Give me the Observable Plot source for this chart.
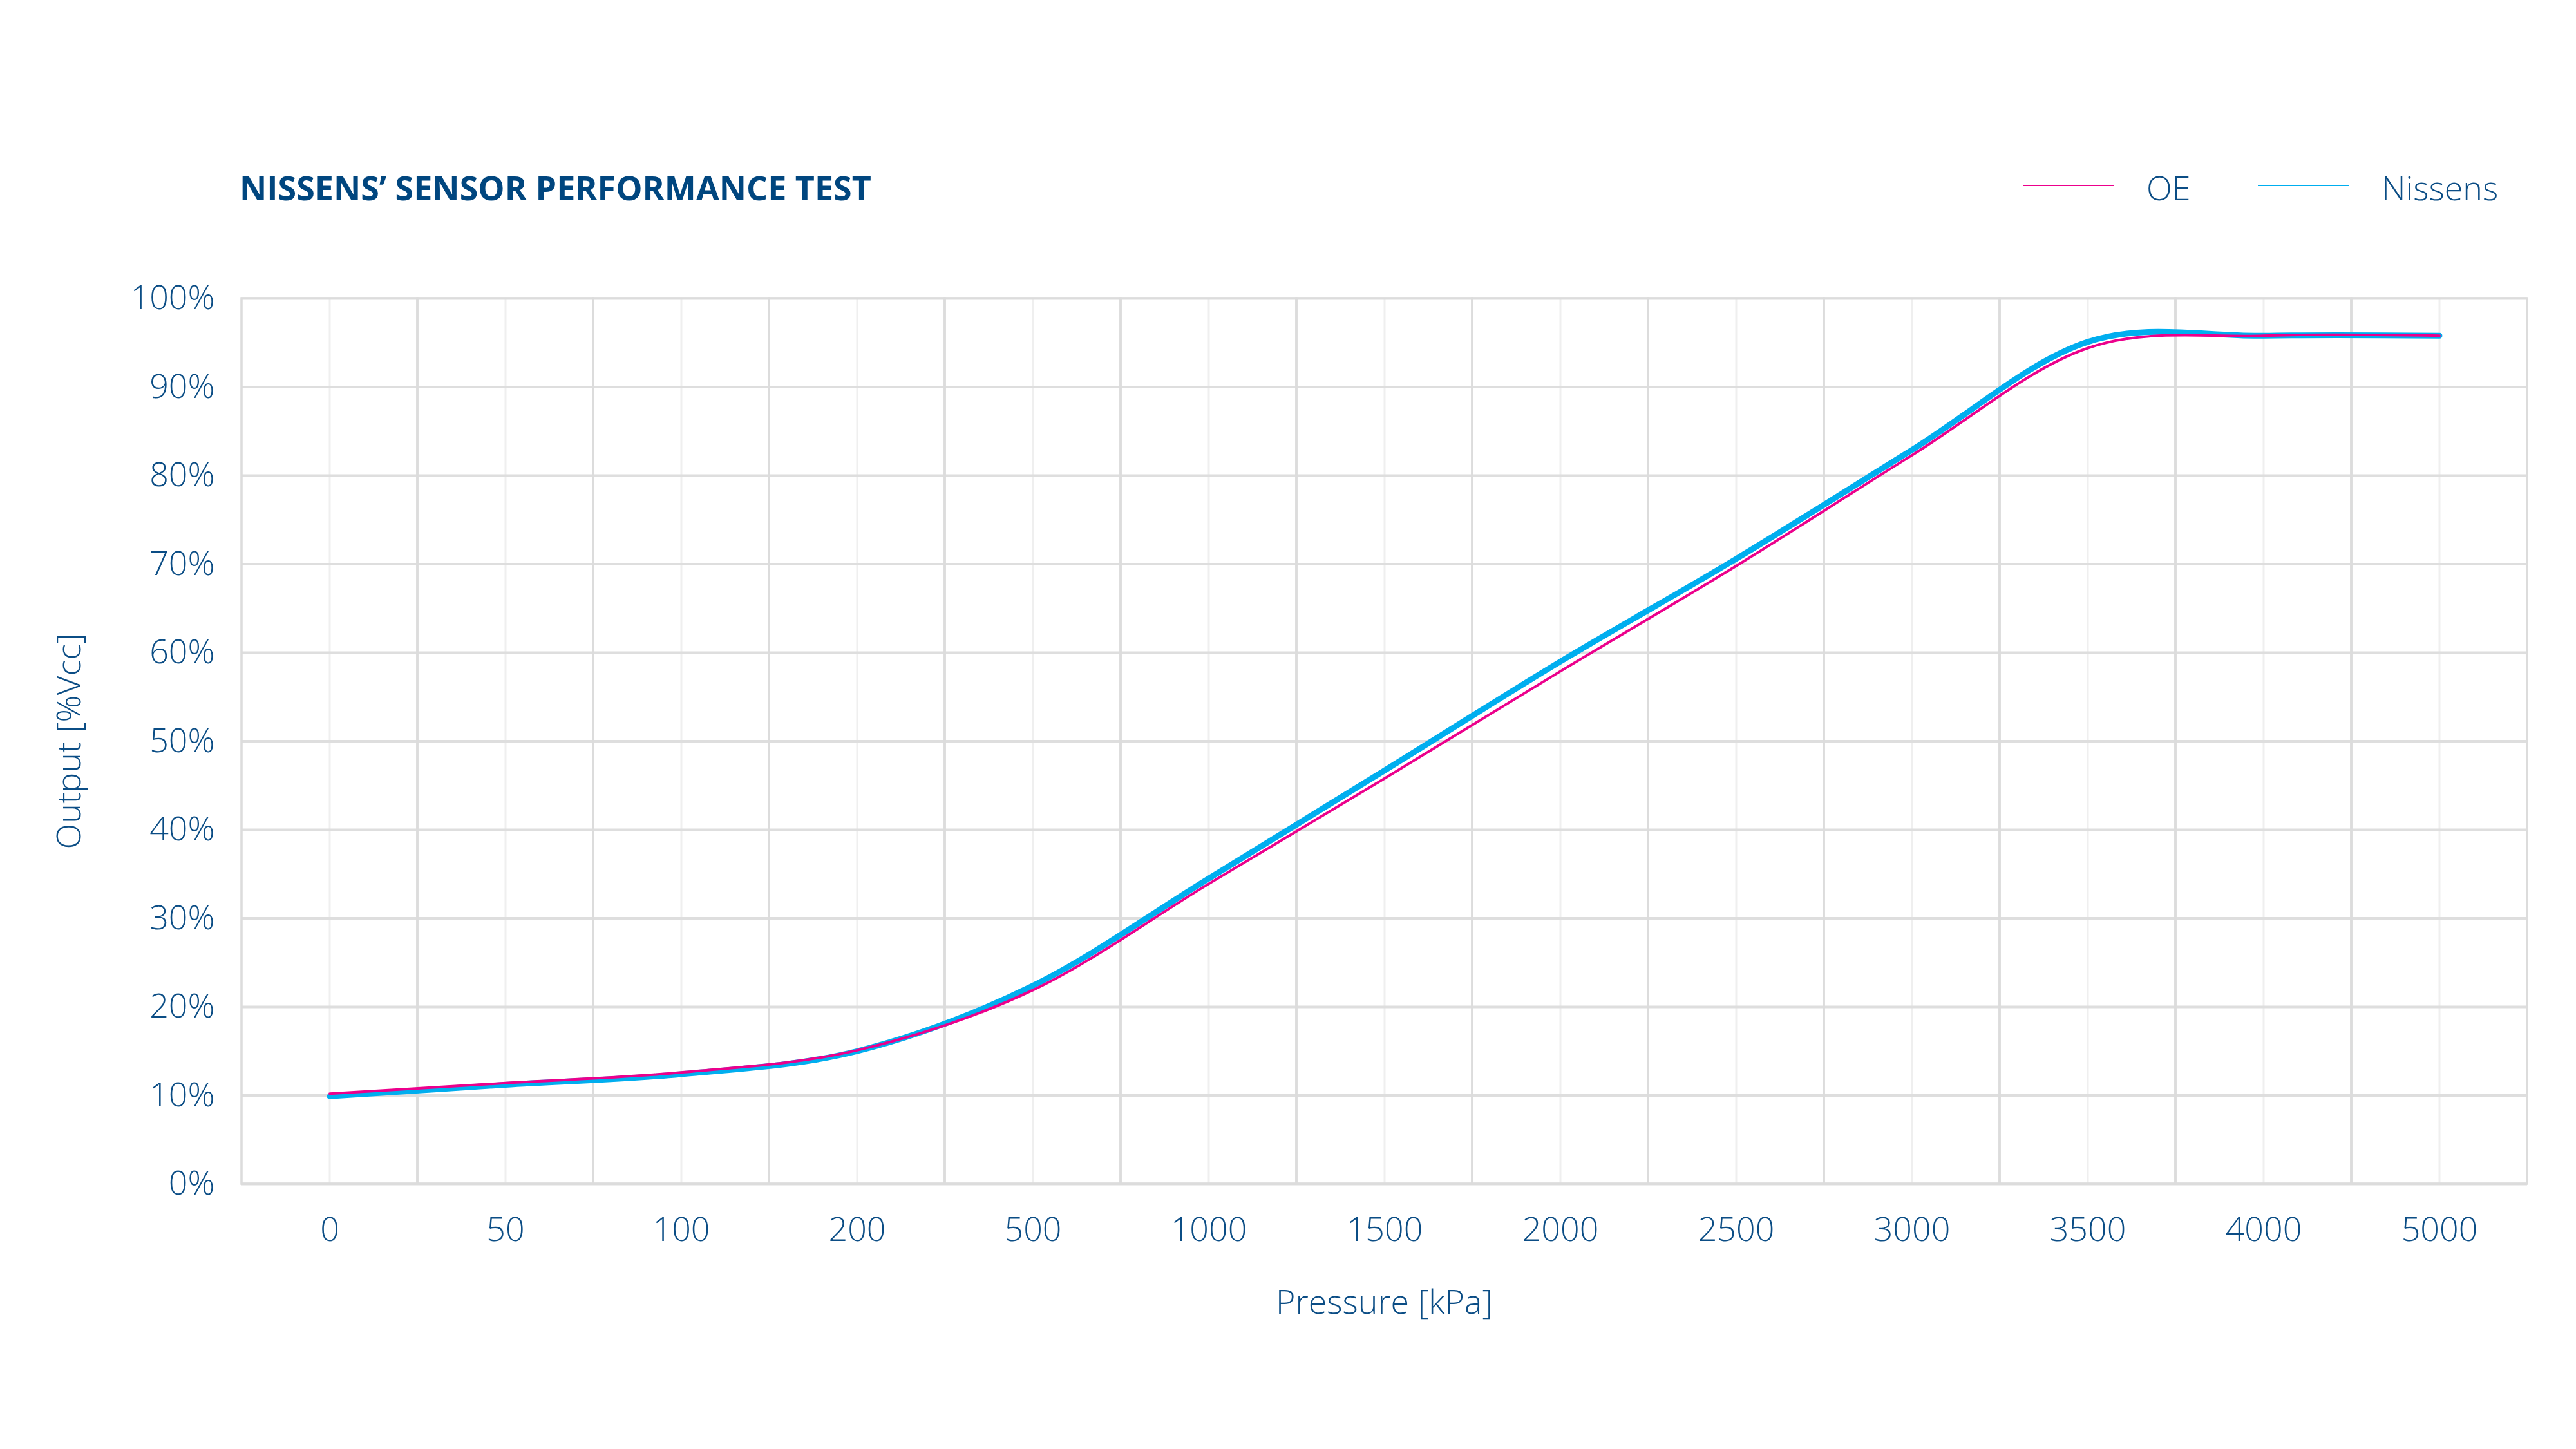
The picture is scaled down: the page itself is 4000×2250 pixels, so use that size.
<!DOCTYPE html>
<html>
<head>
<meta charset="utf-8">
<script src="https://cdn.jsdelivr.net/npm/d3@7"></script>
<script src="https://cdn.jsdelivr.net/npm/@observablehq/plot@0.6"></script>
<style>
  html, body { margin: 0; padding: 0; background: #ffffff; }
  #wrap { position: relative; width: 4000px; height: 2250px; background: #ffffff; font-family: "Open Sans", sans-serif; }
  #header { position: relative; width: 4000px; height: 400px; }
  .title { position: absolute; left: 372px; top: 265px; font-size: 52px; line-height: 52px; font-weight: 700; color: #00467f; white-space: nowrap; }
  .leg-text { position: absolute; top: 265px; font-size: 52px; line-height: 52px; font-weight: 300; color: #0b4d85; white-space: nowrap; }
  .leg-line { position: absolute; top: 287px; width: 141px; height: 2px; }
</style>
</head>
<body>
<div id="wrap">
  <div id="header">
    <div class="title">NISSENS’ SENSOR PERFORMANCE TEST</div>
    <div class="leg-line" style="left:3142px;background:#ec008c"></div>
    <div class="leg-text" style="left:3333px">OE</div>
    <div class="leg-line" style="left:3506px;background:#00aeef"></div>
    <div class="leg-text" style="left:3698px">Nissens</div>
  </div>
  <div id="chart"></div>
</div>
<script>
// Pressure categories [kPa] (equally spaced on the axis)
const pressure = ["0", "50", "100", "200", "500", "1000", "1500", "2000", "2500", "3000", "3500", "4000", "5000"];
// Output [%Vcc]
const oe      = [10.2, 11.4, 12.6, 15.1, 21.9, 33.9, 45.8, 57.9, 69.8, 82.3, 94.4, 95.8, 95.8];
const nissens = [9.9, 11.2, 12.4, 15.0, 22.4, 34.5, 46.7, 59.0, 70.6, 82.9, 95.1, 95.8, 95.8];
const yTicks  = [0, 10, 20, 30, 40, 50, 60, 70, 80, 90, 100];

const labelColor = "#0b4d85";

const chart = Plot.plot({
  width: 4000,
  height: 1850,
  marginTop: 63,
  marginBottom: 412,
  marginLeft: 374,
  marginRight: 76,
  style: {
    fontFamily: "'Open Sans', sans-serif",
    fontSize: "52px",
    fontWeight: 300,
    color: labelColor,
    background: "#ffffff",
    overflow: "visible"
  },
  x: { type: "band", domain: pressure, padding: 0, label: null },
  y: { domain: [0, 100], label: null },
  marks: [
    Plot.gridX({ stroke: "#efefef", strokeWidth: 3, strokeOpacity: 1 }),
    Plot.gridY({ ticks: yTicks, stroke: "#dedede", strokeWidth: 4, strokeOpacity: 1 }),
    Plot.cell(pressure, { x: d => d, fill: "none", stroke: "#dcdcdc", strokeWidth: 3.5 }),
    Plot.axisX({ tickSize: 0, tickPadding: 52, fontSize: 52, label: null }),
    Plot.axisY({ ticks: yTicks, tickSize: 0, tickPadding: 41, fontSize: 52, tickFormat: d => d + "%", label: null }),
    Plot.line(pressure, {
      x: d => d, y: (d, i) => nissens[i],
      stroke: "#00aeef", strokeWidth: 9, curve: "cardinal", tension: 0
    }),
    Plot.line(pressure, {
      x: d => d, y: (d, i) => oe[i],
      stroke: "#ec008c", strokeWidth: 4, curve: "cardinal", tension: 0
    }),
    Plot.text(["Pressure [kPa]"], {
      text: d => d, frameAnchor: "bottom", dy: 185, lineAnchor: "middle", textAnchor: "middle",
      fontSize: 52, fill: labelColor
    }),
    Plot.text(["Output [%Vcc]"], {
      text: d => d, frameAnchor: "left", dx: -266, rotate: -90, lineAnchor: "middle", textAnchor: "middle",
      fontSize: 52, fill: labelColor
    })
  ]
});

document.getElementById("chart").appendChild(chart);
</script>
</body>
</html>
